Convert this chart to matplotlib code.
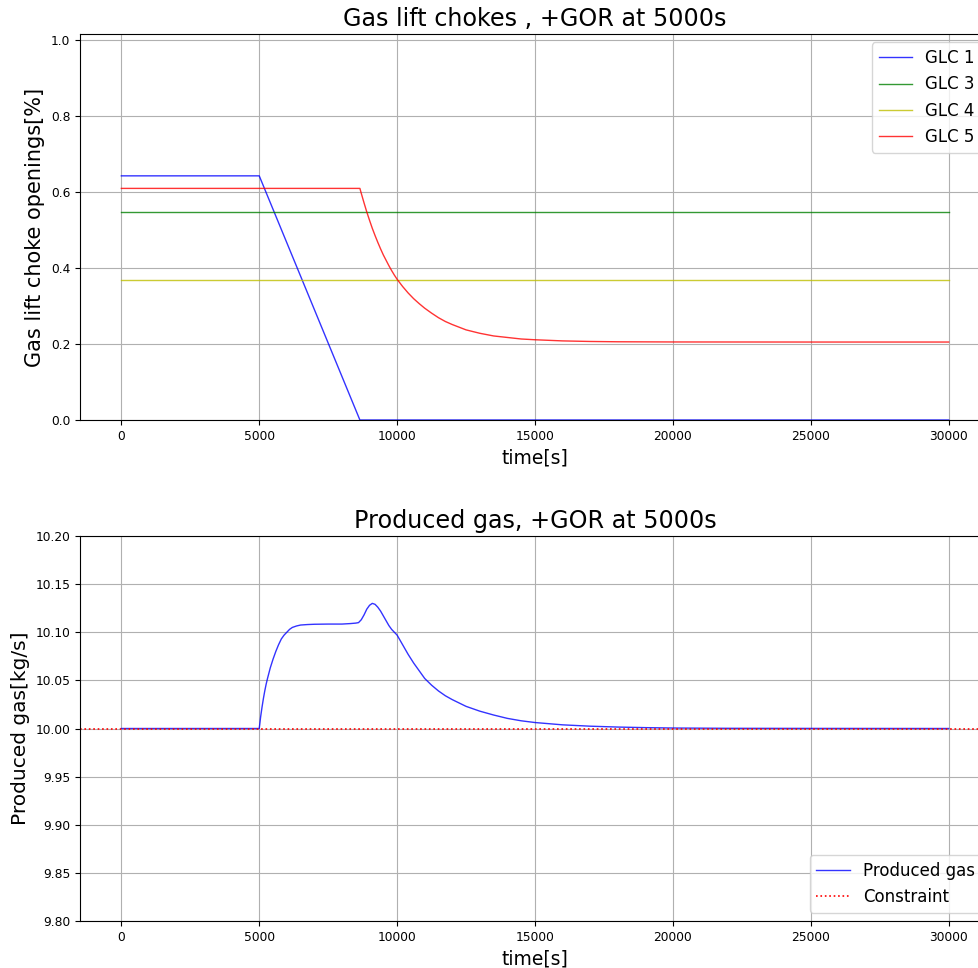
import matplotlib
matplotlib.use("Agg")
import matplotlib.pyplot as plt

# GLC data (time [s], opening)
t_glc1 = [0, 5000, 8650, 30000]
v_glc1 = [0.642, 0.642, 0.0, 0.0]
t_glc3 = [0, 30000]
v_glc3 = [0.547, 0.547]
t_glc4 = [0, 30000]
v_glc4 = [0.368, 0.368]
t_glc5 = [0, 8650, 8700, 8800, 8900, 9000, 9100, 9200, 9300, 9400, 9500, 9600, 9700,
          9800, 9900, 10000, 10200, 10400, 10600, 10800, 11000, 11250, 11500, 11750,
          12000, 12500, 13000, 13500, 14000, 14500, 15000, 16000, 17000, 18000, 20000,
          25000, 30000]
v_glc5 = [0.609, 0.609, 0.596, 0.571, 0.547, 0.525, 0.504, 0.485, 0.467, 0.450, 0.434,
          0.420, 0.406, 0.393, 0.381, 0.370, 0.351, 0.334, 0.319, 0.306, 0.294, 0.281,
          0.269, 0.259, 0.251, 0.237, 0.228, 0.221, 0.217, 0.213, 0.211, 0.208, 0.2065,
          0.2057, 0.2052, 0.205, 0.205]

# Produced gas (time [s], kg/s)
t_gas = [0, 5000, 5050, 5100, 5150, 5200, 5250, 5300, 5400, 5500, 5600, 5700, 5800, 5900,
         6000, 6100, 6200, 6350, 6500, 6750, 7000, 7500, 8000, 8300, 8500, 8600, 8700,
         8800, 8900, 9000, 9100, 9200, 9300, 9400, 9500, 9600, 9700, 9800, 9900, 10000,
         10200, 10400, 10600, 10800, 11000, 11250, 11500, 11750, 12000, 12500, 13000,
         13500, 14000, 14500, 15000, 16000, 17000, 18000, 19000, 20000, 22000, 25000, 30000]
v_gas = [10.000, 10.000, 10.012, 10.022, 10.031, 10.039, 10.046, 10.052, 10.063, 10.072,
         10.080, 10.087, 10.093, 10.097, 10.100, 10.103, 10.105, 10.1065, 10.1075, 10.108,
         10.1083, 10.1085, 10.1085, 10.109, 10.1095, 10.110, 10.113, 10.118, 10.124, 10.128,
         10.130, 10.129, 10.126, 10.122, 10.117, 10.112, 10.107, 10.103, 10.100, 10.097,
         10.087, 10.077, 10.068, 10.060, 10.052, 10.045, 10.039, 10.034, 10.030, 10.023,
         10.018, 10.014, 10.0105, 10.008, 10.0062, 10.0038, 10.0024, 10.0015, 10.0009,
         10.0005, 10.0002, 10.0001, 10.000]
constraint = 10.0

fig = plt.figure(figsize=(9.79, 9.68), dpi=100)
ax1 = fig.add_axes([80/979, 1-420/968, 910/979, 386/968])
ax2 = fig.add_axes([80/979, 1-921/968, 910/979, 385/968])

for ax in (ax1, ax2):
    ax.tick_params(labelsize=8.8)

ax1.plot(t_glc1, v_glc1, color='b', lw=1, alpha=0.8, label='GLC 1')
ax1.plot(t_glc3, v_glc3, color='g', lw=1, alpha=0.8, label='GLC 3')
ax1.plot(t_glc4, v_glc4, color='y', lw=1, alpha=0.8, label='GLC 4')
ax1.plot(t_glc5, v_glc5, color='r', lw=1, alpha=0.8, label='GLC 5')
ax1.set_xlim(-1500, 31500)
ax1.set_ylim(0, 1.015)
ax1.grid(True)
ax1.set_title('Gas lift chokes , +GOR at 5000s', fontsize=17.2)
ax1.set_xlabel('time[s]', fontsize=13.5)
ax1.set_ylabel('Gas lift choke openings[%]', fontsize=15)
ax1.legend(loc='upper right', fontsize=12)

ax2.plot(t_gas, v_gas, color='b', lw=1, alpha=0.8, label='Produced gas')
ax2.axhline(constraint, color='r', ls=':', lw=1.2, label='Constraint')
ax2.set_xlim(-1500, 31500)
ax2.set_ylim(9.8, 10.2)
ax2.grid(True)
ax2.set_title('Produced gas, +GOR at 5000s', fontsize=17.2)
ax2.set_xlabel('time[s]', fontsize=13.5)
ax2.set_ylabel('Produced gas[kg/s]', fontsize=14.5)
ax2.legend(loc='lower right', fontsize=12)

fig.savefig('out.png', dpi=100)
